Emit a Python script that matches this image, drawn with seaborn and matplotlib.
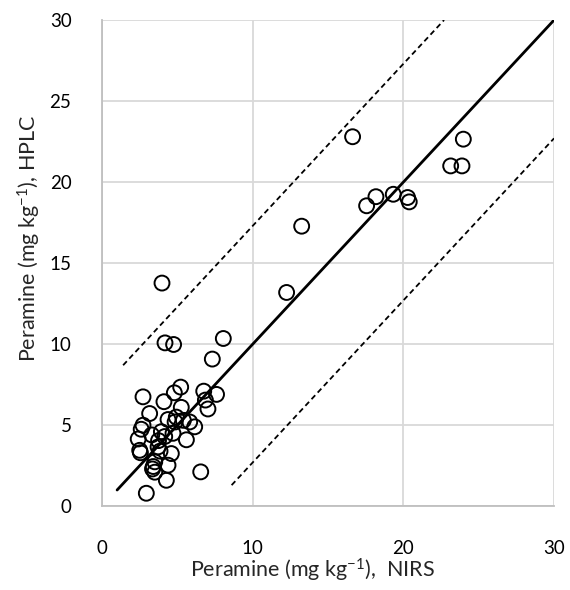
import matplotlib
matplotlib.use("Agg")
import matplotlib.pyplot as plt
import seaborn as sns
import pandas as pd

# NIRS (x) vs HPLC (y) peramine values, mg/kg
nirs = [2.72, 4.11, 4.80, 5.22, 6.75, 7.60, 6.86, 7.03, 3.16, 5.26,
        4.38, 4.93, 5.40, 5.82, 6.15, 2.72, 2.60, 2.40, 3.94, 4.71,
        5.60, 2.50, 2.55, 3.72, 3.75, 4.60, 4.16, 3.85, 3.50, 4.38,
        3.35, 3.50, 3.40, 4.27, 6.55, 2.94, 4.85, 3.30,
        3.98, 4.18, 4.75, 8.05, 7.32,
        12.25, 13.25, 16.63, 17.56, 18.18, 19.33, 20.28, 20.39,
        23.14, 23.89, 23.98]
hplc = [6.75, 6.45, 7.00, 7.35, 7.10, 6.90, 6.55, 6.00, 5.72, 6.10,
        5.35, 5.50, 5.30, 5.20, 4.90, 5.00, 4.75, 4.15, 4.60, 4.50,
        4.10, 3.45, 3.30, 3.66, 4.05, 3.25, 4.30, 3.40, 2.74, 2.53,
        2.30, 2.10, 2.45, 1.60, 2.12, 0.80, 5.20, 4.40,
        13.77, 10.08, 9.98, 10.35, 9.08,
        13.19, 17.28, 22.80, 18.54, 19.10, 19.25, 19.05, 18.78,
        21.00, 21.00, 22.65]

# reference lines: 1:1 line and +/- prediction band
line_x = [1.0, 30.0]
upper_x = [1.4, 22.7]
lower_x = [8.6, 30.0]
band = 7.3

x_ticks = [0, 10, 20, 30]
y_ticks = [0, 5, 10, 15, 20, 25, 30]

sns.set_theme(style="white")
plt.rcParams['font.family'] = ['Lato', 'DejaVu Sans']
plt.rcParams['mathtext.fontset'] = 'custom'
plt.rcParams['mathtext.rm'] = 'Lato'
plt.rcParams['mathtext.default'] = 'regular'

df = pd.DataFrame({"NIRS": nirs, "HPLC": hplc})

fig = plt.figure(figsize=(5.7, 5.9), dpi=100)
ax = fig.add_axes([0.179, 0.142, 0.793, 0.824])

ax.grid(True, color="#d9d9d9", linewidth=1.3)
ax.set_axisbelow(True)

sns.lineplot(x=line_x, y=line_x, color="black", linewidth=2.0, ax=ax)
sns.lineplot(x=upper_x, y=[v + band for v in upper_x], color="black",
             linewidth=1.3, linestyle=(0, (3, 2)), ax=ax)
sns.lineplot(x=lower_x, y=[v - band for v in lower_x], color="black",
             linewidth=1.3, linestyle=(0, (3, 2)), ax=ax)

sns.scatterplot(data=df, x="NIRS", y="HPLC", s=115, facecolor="none",
                edgecolor="black", linewidth=1.4, ax=ax, zorder=3)

ax.set_xlim(0, 30)
ax.set_ylim(0, 30)
ax.set_xticks(x_ticks)
ax.set_yticks(y_ticks)
ax.tick_params(axis="both", length=0, labelsize=13.5, colors="#000000")
ax.tick_params(axis="x", pad=24)
ax.tick_params(axis="y", pad=22)

for side in ["top", "right"]:
    ax.spines[side].set_visible(False)
for side in ["left", "bottom"]:
    ax.spines[side].set_color("#bfbfbf")
    ax.spines[side].set_linewidth(1.3)

ax.set_xlabel(r"Peramine (mg kg$^{-1}$),  NIRS", fontsize=15.5)
ax.set_ylabel(r"Peramine (mg kg$^{-1}$), HPLC", fontsize=15.5)
ax.xaxis.set_label_coords(0.465, -0.105)
ax.yaxis.set_label_coords(-0.13, 0.55)

fig.savefig("out.png", dpi=100)
